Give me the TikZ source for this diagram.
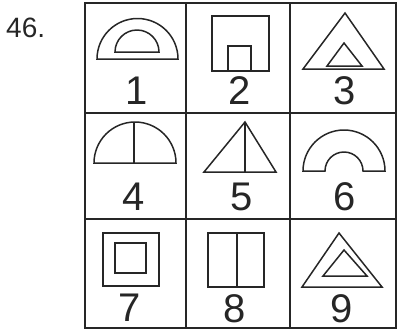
\documentclass[tikz,border=0pt]{standalone}
\usepackage{fontspec}
\setmainfont{Liberation Sans}
\usepackage{tikz}
\usetikzlibrary{positioning}

\tikzset{
  gridline/.style={line width=1.8pt, black!85},
  figline/.style={line width=1.5pt, black!85},
  numlabel/.style={font=\fontsize{40}{40}\selectfont, inner sep=0pt, black!85},
}

\begin{document}
\begin{tikzpicture}[x=1pt, y=-1pt]
\useasboundingbox (0,0) rectangle (398,333);
% question number
\node[font=\fontsize{28}{28}\selectfont, inner sep=0pt, black!85, anchor=west] (qnum) at (6,28) {46.};
% grid
\draw[gridline] (85,3) rectangle (396,328);
\draw[gridline] (186,3) -- (186,328);
\draw[gridline] (290,3) -- (290,328);
\draw[gridline] (85,113) -- (396,113);
\draw[gridline] (85,219) -- (396,219);
% row 1
\begin{scope}
\draw[figline] (97,59) arc[start angle=180, end angle=360, radius=40.5] -- cycle;
\draw[figline] (115,52) arc[start angle=180, end angle=360, radius=22] -- cycle;
\node[numlabel] (n1) at (137,91) {1};
\draw[figline] (212,16) rectangle (269,71);
\draw[figline] (228,71) -- (228,46) -- (251,46) -- (251,71);
\node[numlabel] (n2) at (240,91) {2};
\draw[figline] (303,69) -- (345,13) -- (384,69) -- cycle;
\draw[figline] (327,66) -- (344,43) -- (362,66) -- cycle;
\node[numlabel] (n3) at (345,91) {3};
\end{scope}
% row 2
\begin{scope}
\draw[figline] (94,163) arc[start angle=180, end angle=360, radius=41] -- cycle;
\draw[figline] (134,163) -- (134,122);
\node[numlabel] (n4) at (134,197) {4};
\draw[figline] (204,172) -- (245,122) -- (276,172) -- cycle;
\draw[figline] (245,122) -- (245,172);
\node[numlabel] (n5) at (242,197) {5};
\draw[figline] (303,171) arc[start angle=180, end angle=360, radius=41] -- (363,171)
  arc[start angle=360, end angle=180, radius=19] -- cycle;
\node[numlabel] (n6) at (345,197) {6};
\end{scope}
% row 3
\begin{scope}
\draw[figline] (103,233) rectangle (159,286);
\draw[figline] (115,243) rectangle (146,273);
\node[numlabel] (n7) at (130,308) {7};
\draw[figline] (208,233) rectangle (264,287);
\draw[figline] (237,233) -- (237,287);
\node[numlabel] (n8) at (235,309) {8};
\draw[figline] (302,287) -- (339,233) -- (382,287) -- cycle;
\draw[figline] (323,276) -- (344,250) -- (367,276) -- cycle;
\node[numlabel] (n9) at (342,309) {9};
\end{scope}
\end{tikzpicture}
\end{document}
